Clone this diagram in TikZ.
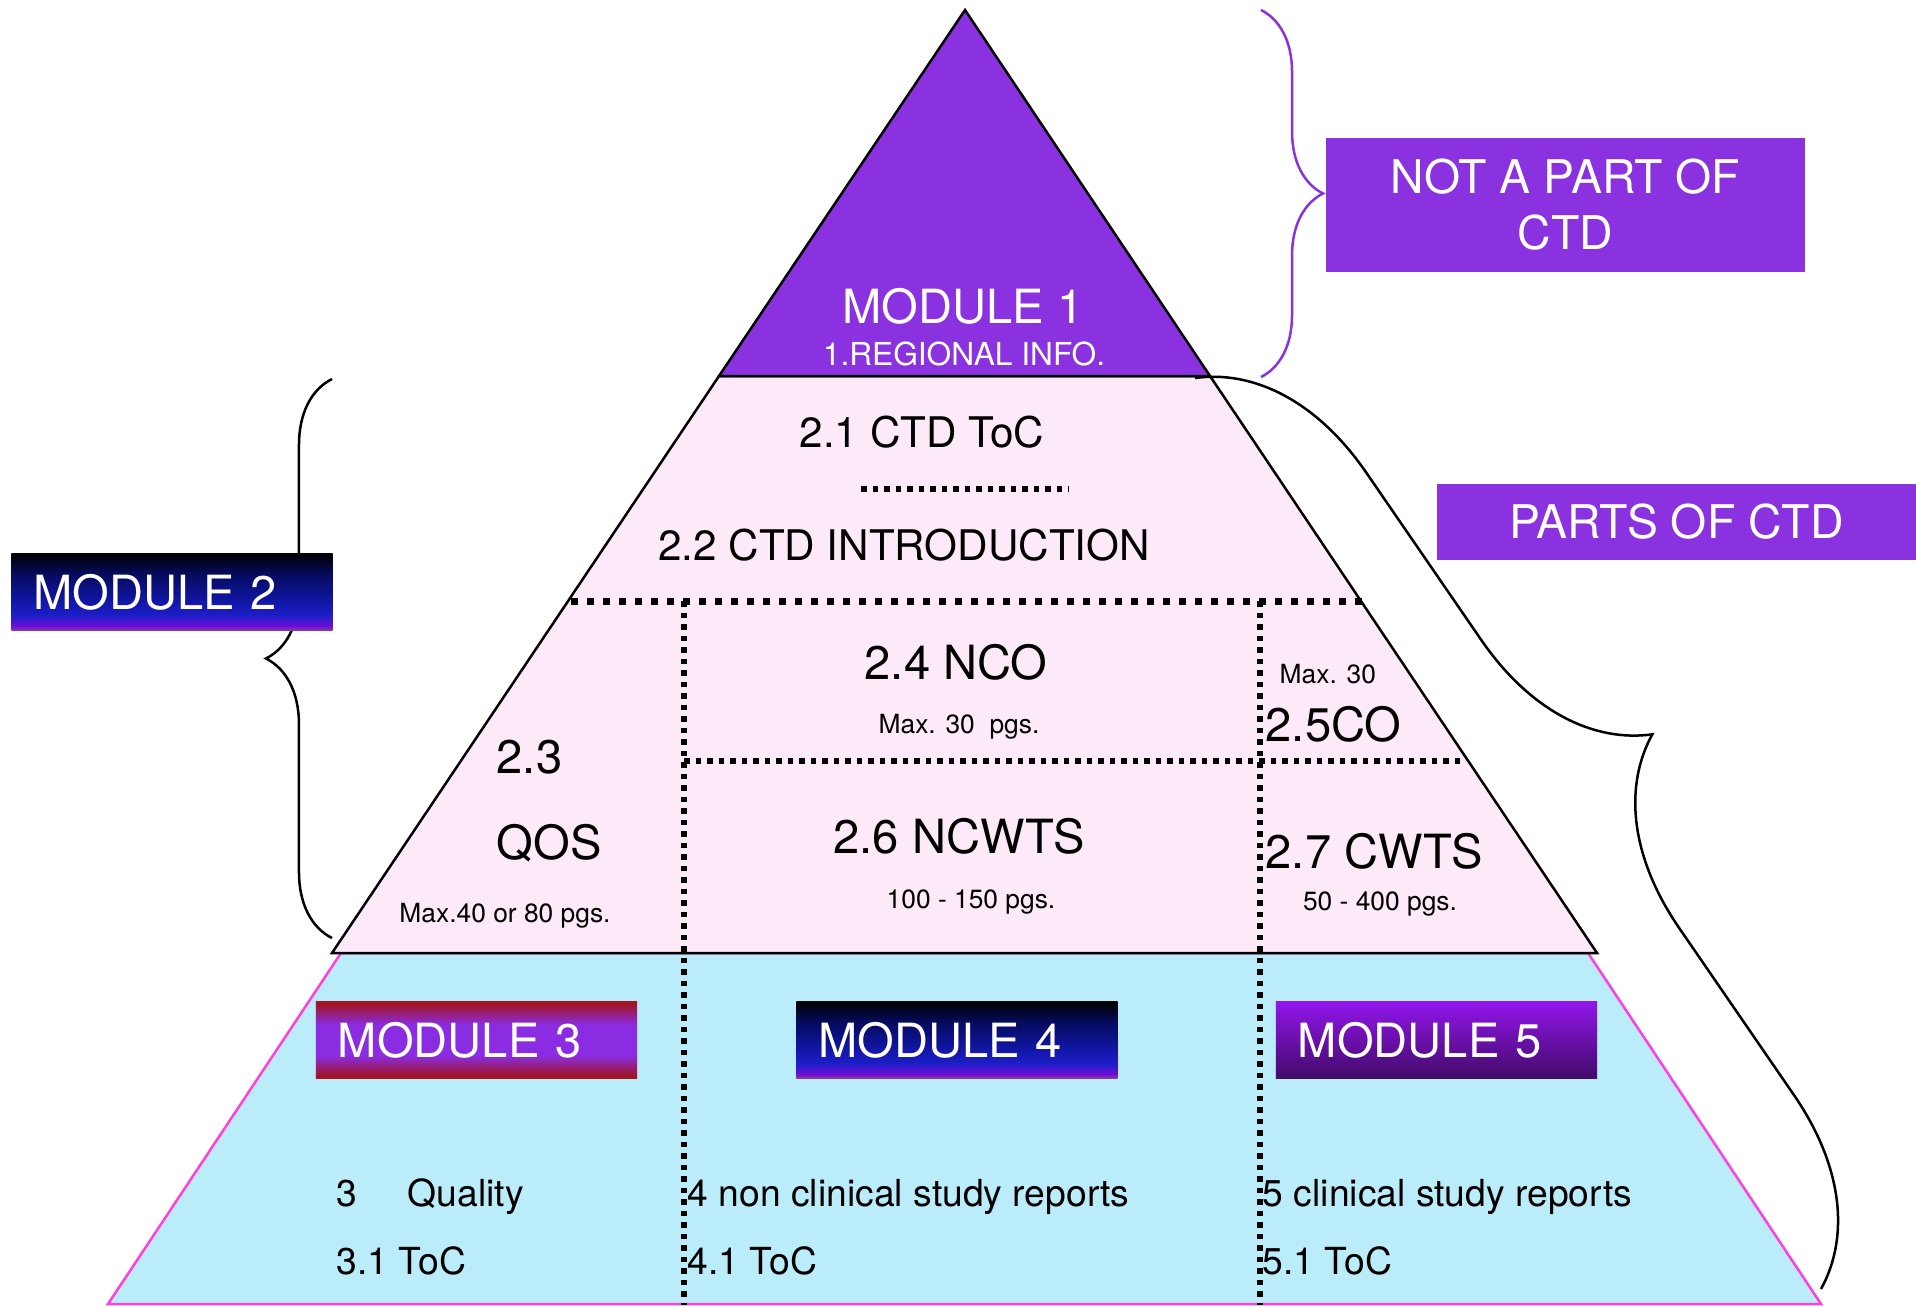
\documentclass[tikz,border=0pt]{standalone}
\usepackage{fontspec}
\setmainfont{TeX Gyre Heros}
\usepackage{tikz}
\usetikzlibrary{decorations.pathreplacing}
\usetikzlibrary{calc}

\definecolor{ctdpurple}{RGB}{138,50,224}
\definecolor{ctdpink}{RGB}{252,234,248}
\definecolor{ctdblue}{RGB}{187,236,250}
\definecolor{ctdmagenta}{RGB}{255,64,222}
\definecolor{navymauve}{RGB}{142,62,160}
\definecolor{navyviolet}{RGB}{106,14,214}
\definecolor{navyblue}{RGB}{28,30,200}
\definecolor{navymid}{RGB}{14,20,150}
\definecolor{navydark}{RGB}{6,10,92}
\definecolor{redtop}{RGB}{160,20,40}
\definecolor{redmid}{RGB}{138,44,226}
\definecolor{violettop}{RGB}{146,22,236}
\definecolor{violetbot}{RGB}{66,10,104}

\pgfdeclareverticalshading{navyfade}{100bp}{color(0bp)=(navymauve); color(25bp)=(navymauve); color(28bp)=(navyviolet); color(35bp)=(navyblue); color(48bp)=(navymid); color(62bp)=(navydark); color(75bp)=(black); color(100bp)=(black)}
\pgfdeclareverticalshading{redfade}{100bp}{color(0bp)=(redtop); color(27bp)=(redtop); color(40bp)=(redmid); color(60bp)=(redmid); color(73bp)=(redtop); color(100bp)=(redtop)}

\begin{document}
\begin{tikzpicture}[x=0.01cm,y=-0.01cm,
  outline/.style={line width=0.025cm},
  dotline/.style={line width=0.055cm,dash pattern=on 0.055cm off 0.06cm},
  heavydots/.style={line width=0.07cm,dash pattern=on 0.07cm off 0.09cm},
  bigtext/.style={font=\fontsize{13.4}{16}\selectfont,inner sep=0pt,anchor=base},
  midtext/.style={font=\fontsize{12}{14}\selectfont,inner sep=0pt,anchor=base},
  lowtext/.style={font=\fontsize{10.6}{13}\selectfont,inner sep=0pt,anchor=base west},
  smalltext/.style={font=\fontsize{7.5}{9}\selectfont,inner sep=0pt,anchor=base},
  regtext/.style={font=\fontsize{9}{11}\selectfont,inner sep=0pt,anchor=base},
  modbox/.style={minimum width=3.21cm,minimum height=0.77cm,text width=2.77cm,align=left,
    inner xsep=0.22cm,inner ysep=0pt,text height=0.34cm,text depth=0pt,
    font=\fontsize{13.4}{16}\selectfont,text=white},
  ctdbox/.style={fill=ctdpurple,text=white,font=\fontsize{13.2}{15.9}\selectfont,align=center,inner sep=0pt}]
  \useasboundingbox (0,0) rectangle (1916,1306);
  \coordinate (apex) at (965,10);
  \coordinate (l1) at (719,376);
  \coordinate (r1) at (1210,376);
  \coordinate (l2) at (332,953);
  \coordinate (r2) at (1597,953);
  \coordinate (l3) at (341,953);
  \coordinate (r3) at (1588,953);
  \coordinate (l4) at (108,1304);
  \coordinate (r4) at (1821,1304);
  \draw[outline,draw=ctdmagenta,fill=ctdblue] (l3) -- (l4) -- (r4) -- (r3) -- cycle;
  \draw[outline,fill=ctdpink] (l1) -- (l2) -- (r2) -- (r1) -- cycle;
  \draw[outline,fill=ctdpurple] (apex) -- (l1) -- (r1) -- cycle;
  \coordinate (ha) at (861,489);
  \coordinate (hb) at (1069,489);
  \coordinate (hc) at (571,601);
  \coordinate (hd) at (1363,601);
  \coordinate (he) at (684,761);
  \coordinate (hf) at (1466,761);
  \coordinate (va) at (684,601);
  \coordinate (vb) at (684,1305);
  \coordinate (vc) at (1260,601);
  \coordinate (vd) at (1260,1305);
  \draw[dotline] (ha) -- (hb);
  \draw[heavydots] (hc) -- (hd);
  \draw[dotline] (he) -- (hf);
  \draw[dotline] (va) -- (vb);
  \draw[dotline] (vc) -- (vd);
  \node[bigtext,text=white] (mod1) at (963,323) {MODULE 1};
  \node[regtext,text=white] (regional) at (964,365) {1.REGIONAL INFO.};
  \node[midtext] (ctdtoc) at (922,447) {2.1 CTD ToC};
  \node[midtext] (ctdintro) at (904,560) {2.2 CTD INTRODUCTION};
  \node[bigtext] (nco) at (956,679) {2.4 NCO};
  \node[smalltext] (ncomax) at (959,733) {Max. 30\ \ pgs.};
  \node[bigtext,anchor=base west] (qosnum) at (496,773) {2.3};
  \node[bigtext,anchor=base west] (qos) at (496,859) {QOS};
  \node[smalltext] (qosmax) at (505,922) {Max.40 or 80 pgs.};
  \node[bigtext] (ncwts) at (959,853) {2.6 NCWTS};
  \node[smalltext] (ncwtsmax) at (971,908) {100 - 150 pgs.};
  \node[smalltext,anchor=base west] (comax) at (1279,683) {Max. 30};
  \node[bigtext,anchor=base west] (co) at (1265,741) {2.5CO};
  \node[bigtext,anchor=base west] (cwts) at (1265,868) {2.7 CWTS};
  \node[smalltext] (cwtsmax) at (1380,910) {50 - 400 pgs.};
  \node[lowtext] (qnum) at (336,1206) {3};
  \node[lowtext] (quality) at (407,1206) {Quality};
  \node[lowtext] (qtoc) at (336,1274) {3.1 ToC};
  \node[lowtext] (nonclin) at (687,1206) {4 non clinical study reports};
  \node[lowtext] (nonclintoc) at (687,1274) {4.1 ToC};
  \node[lowtext] (clin) at (1262,1206) {5 clinical study reports};
  \node[lowtext] (clintoc) at (1262,1274) {5.1 ToC};
  \coordinate (pt) at (1261,10);
  \coordinate (pb) at (1261,377);
  \coordinate (lt) at (332,379);
  \coordinate (lb) at (332,938);
  \coordinate (rt) at (1195,378);
  \coordinate (rb) at (1821,1289);
  \draw[ctdpurple,outline,decorate,decoration={brace,amplitude=0.62cm}] (pt) -- (pb);
  \draw[outline,decorate,decoration={brace,amplitude=0.66cm}] (lb) -- (lt);
  \draw[outline,decorate,decoration={brace,amplitude=1.75cm}] (rt) -- (rb);
  \node[modbox,shading=navyfade] (mod2) at (172,592) {MODULE 2};
  \node[modbox,shading=redfade] (mod3) at (476.5,1040) {MODULE 3};
  \node[modbox,shading=navyfade] (mod4) at (957,1040) {MODULE 4};
  \node[modbox,top color=violettop,bottom color=violetbot] (mod5) at (1436.5,1040) {MODULE 5};
  \node[ctdbox,minimum width=4.79cm,minimum height=1.34cm] (notctd) at (1565.5,205) {NOT A PART OF\\CTD};
  \node[ctdbox,minimum width=4.79cm,minimum height=0.76cm,text height=0.33cm,text depth=0pt] (partsctd) at (1676.5,522) {PARTS OF CTD};
\end{tikzpicture}
\end{document}
